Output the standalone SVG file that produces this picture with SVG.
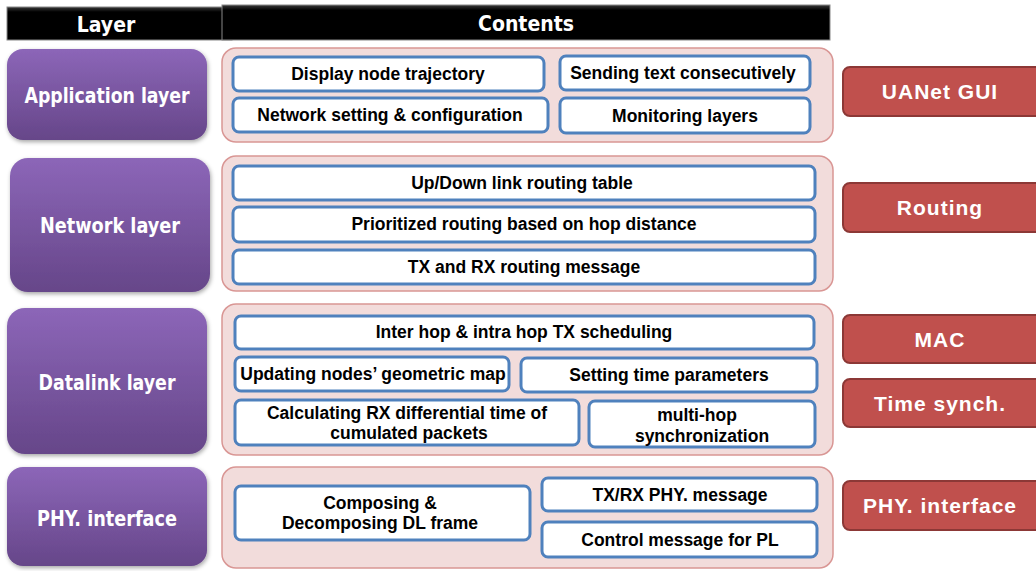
<svg xmlns="http://www.w3.org/2000/svg" width="1036" height="571" viewBox="0 0 1036 571">
<defs>
<linearGradient id="pg" x1="0" y1="0" x2="0" y2="1">
<stop offset="0" stop-color="#8c66b8"/>
<stop offset="1" stop-color="#664689"/>
</linearGradient>
<linearGradient id="hg" x1="0" y1="0" x2="0" y2="1">
<stop offset="0" stop-color="#3a3a3a"/>
<stop offset="0.15" stop-color="#000"/>
<stop offset="1" stop-color="#000"/>
</linearGradient>
<filter id="sh" x="-10%" y="-10%" width="125%" height="130%">
<feDropShadow dx="1" dy="2" stdDeviation="2" flood-color="#000" flood-opacity="0.35"/>
</filter>
</defs>
<style>
.hd{fill:url(#hg);stroke:#888;stroke-width:1}
.hdt{fill:#fff;font-family:"DejaVu Sans Condensed","DejaVu Sans",sans-serif;font-weight:bold;font-size:21px;text-anchor:middle}
.lay{fill:url(#pg);filter:url(#sh)}
.layt{fill:#fff;font-family:"DejaVu Sans Condensed","DejaVu Sans",sans-serif;font-weight:bold;font-size:22px;text-anchor:middle}
.ct{fill:#f2dcdb;stroke:#d99694;stroke-width:1.5}
.bx{fill:#fff;stroke:#4f81bd;stroke-width:3}
.bt{fill:#000;font-family:"Liberation Sans",Arial,sans-serif;font-weight:bold;font-size:17.5px;text-anchor:middle}
.rd{fill:#c0504d;stroke:#8c3836;stroke-width:2}
.rt{fill:#fff;font-family:"Liberation Sans",Arial,sans-serif;font-weight:bold;font-size:21px;text-anchor:middle;letter-spacing:1px}
</style>
<g id="header-layer"><rect class="hd" x="7" y="7" width="225" height="33"/><text class="hdt" x="106" y="32">Layer</text></g>
<g id="header-contents"><rect class="hd" x="222" y="5" width="608" height="35"/><text class="hdt" x="526" y="31">Contents</text></g>

<g id="app-layer"><rect class="lay" x="7" y="49" width="200" height="91" rx="16"/><text class="layt" x="107" y="103" textLength="165" lengthAdjust="spacingAndGlyphs">Application layer</text></g>
<g id="net-layer"><rect class="lay" x="10" y="158" width="200" height="134" rx="18"/><text class="layt" x="110" y="233" textLength="140" lengthAdjust="spacingAndGlyphs">Network layer</text></g>
<g id="dl-layer"><rect class="lay" x="7" y="308" width="200" height="146" rx="18"/><text class="layt" x="107" y="390" textLength="137" lengthAdjust="spacingAndGlyphs">Datalink layer</text></g>
<g id="phy-layer"><rect class="lay" x="7" y="467" width="200" height="99" rx="16"/><text class="layt" x="107" y="526" textLength="140" lengthAdjust="spacingAndGlyphs">PHY. interface</text></g>

<g id="app-contents">
<rect class="ct" x="222" y="48" width="611" height="94" rx="14"/>
<rect class="bx" x="233" y="57" width="311" height="34" rx="6"/><text class="bt" x="388" y="80">Display node trajectory</text>
<rect class="bx" x="560" y="56" width="250" height="34" rx="6"/><text class="bt" x="683" y="79">Sending text consecutively</text>
<rect class="bx" x="233" y="98" width="315" height="34" rx="6"/><text class="bt" x="390" y="121">Network setting &amp; configuration</text>
<rect class="bx" x="560" y="98" width="250" height="35" rx="6"/><text class="bt" x="685" y="122">Monitoring layers</text>
</g>
<g id="net-contents">
<rect class="ct" x="222" y="156" width="611" height="135" rx="14"/>
<rect class="bx" x="233" y="166" width="582" height="34" rx="6"/><text class="bt" x="522" y="189">Up/Down link routing table</text>
<rect class="bx" x="233" y="207" width="582" height="35" rx="6"/><text class="bt" x="524" y="230">Prioritized routing based on hop distance</text>
<rect class="bx" x="233" y="250" width="582" height="34" rx="6"/><text class="bt" x="524" y="273">TX and RX routing message</text>
</g>
<g id="dl-contents">
<rect class="ct" x="222" y="304" width="611" height="151" rx="14"/>
<rect class="bx" x="235" y="316" width="579" height="33" rx="6"/><text class="bt" x="524" y="338">Inter hop &amp; intra hop TX scheduling</text>
<rect class="bx" x="235" y="357" width="274" height="34" rx="6"/><text class="bt" x="373" y="380">Updating nodes’ geometric map</text>
<rect class="bx" x="521" y="358" width="296" height="34" rx="6"/><text class="bt" x="669" y="381">Setting time parameters</text>
<rect class="bx" x="235" y="400" width="344" height="45" rx="6"/><text class="bt" x="407" y="419">Calculating RX differential  time of</text><text class="bt" x="409" y="439">cumulated packets</text>
<rect class="bx" x="589" y="401" width="226" height="46" rx="6"/><text class="bt" x="697" y="421">multi-hop</text><text class="bt" x="702" y="442">synchronization</text>
</g>
<g id="phy-contents">
<rect class="ct" x="222" y="467" width="611" height="101" rx="14"/>
<rect class="bx" x="235" y="486" width="295" height="54" rx="6"/><text class="bt" x="380" y="509">Composing &amp;</text><text class="bt" x="380" y="529">Decomposing DL frame</text>
<rect class="bx" x="542" y="478" width="275" height="33" rx="6"/><text class="bt" x="680" y="501">TX/RX PHY. message</text>
<rect class="bx" x="542" y="522" width="275" height="35" rx="6"/><text class="bt" x="680" y="546">Control message for PL</text>
</g>

<g id="uanet-gui"><rect class="rd" x="843" y="67" width="200" height="49" rx="7"/><text class="rt" x="940" y="99">UANet GUI</text></g>
<g id="routing"><rect class="rd" x="843" y="183" width="200" height="49" rx="7"/><text class="rt" x="940" y="215">Routing</text></g>
<g id="mac"><rect class="rd" x="843" y="315" width="200" height="48" rx="7"/><text class="rt" x="940" y="347">MAC</text></g>
<g id="time-synch"><rect class="rd" x="843" y="379" width="200" height="48" rx="7"/><text class="rt" x="940" y="411">Time synch.</text></g>
<g id="phy-interface"><rect class="rd" x="843" y="481" width="200" height="49" rx="7"/><text class="rt" x="940" y="513">PHY. interface</text></g>
<g id="connectors"/>
</svg>
